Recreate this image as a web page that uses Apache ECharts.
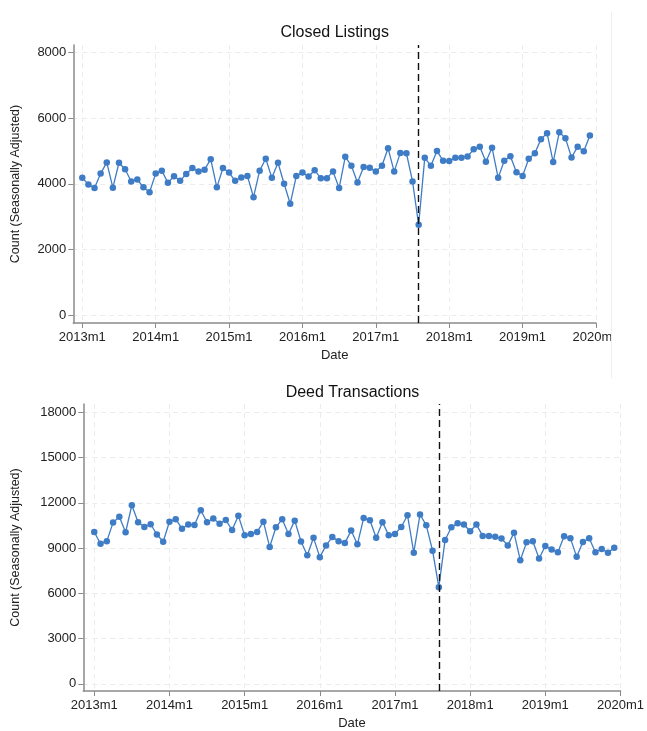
<!DOCTYPE html>
<html>
<head>
<meta charset="utf-8">
<script src="https://cdn.jsdelivr.net/npm/echarts@6.0.0/dist/echarts.min.js"></script>
<style>
html,body{margin:0;padding:0;background:#fff;}
#chart{width:647px;height:731px;}
</style>
</head>
<body>
<div id="chart"></div>
<script>
// ---- data ----
const startYear = 2013;
const xTickLabels = ['2013m1','2014m1','2015m1','2016m1','2017m1','2018m1','2019m1','2020m1'];
const xTickMonths = [0,12,24,36,48,60,72,84];
const eventMonth = 55; // 2017m8
const topTitle = 'Closed Listings';
const bottomTitle = 'Deed Transactions';
const yTitle = 'Count (Seasonally Adjusted)';
const xTitle = 'Date';
const topYTicks = [0,2000,4000,6000,8000];
const bottomYTicks = [0,3000,6000,9000,12000,15000,18000];

const closedListings = [
  4180,3980,3870,4310,4650,3880,4640,4440,4070,4130,3890,3740,
  4310,4400,4030,4230,4090,4300,4480,4370,4430,4750,3890,4480,
  4340,4090,4190,4240,3590,4400,4760,4180,4640,4000,3390,4240,
  4340,4220,4410,4170,4170,4370,3870,4820,4550,4040,4510,4490,
  4370,4550,5080,4370,4940,4930,4070,2750,4790,4550,5000,4700,
  4690,4790,4790,4830,5050,5130,4670,5100,4180,4700,4840,4350,
  4240,4760,4930,5360,5540,4660,5570,5390,4800,5130,4990,5470
];
const deedTransactions = [
  10070,9290,9460,10690,11080,10050,11840,10710,10400,10580,9900,9420,
  10750,10920,10290,10560,10530,11510,10710,10970,10620,10860,10200,11140,
  9860,9940,10070,10750,9070,10380,10920,9940,10820,9440,8530,9680,
  8400,9180,9730,9460,9330,10160,9250,10990,10840,9680,10710,9860,
  9940,10400,11180,8700,11230,10510,8830,6410,9540,10380,10640,10560,
  10120,10560,9810,9810,9750,9640,9180,10010,8200,9380,9460,8310,
  9140,8900,8730,9790,9660,8420,9400,9660,8730,8940,8700,9030
];

// ---- build ----
const toPairs = arr => arr.map((v,i)=>[i,v]);
const FONT = '"Liberation Sans", Arial, sans-serif';
const LINE_COLOR = '#3f7cc6';
const AXIS_COLOR = '#8a8a8a';
const GRID_COLOR = '#ececec';
const monthLabel = v => {
  const idx = xTickMonths.indexOf(Math.round(v));
  return idx >= 0 ? xTickLabels[idx] : '';
};

function xAxisCfg(gridIndex, min){
  return {
    type:'value', gridIndex, min, max:84,
    name:xTitle, nameLocation:'middle', nameGap:26,
    nameTextStyle:{fontFamily:FONT, fontSize:13, color:'#222'},
    axisLine:{show:true, onZero:false, lineStyle:{color:AXIS_COLOR, width:1.5}},
    axisTick:{show:true, length:5, customValues:xTickMonths, lineStyle:{color:AXIS_COLOR, width:1}},
    axisLabel:{customValues:xTickMonths, formatter:monthLabel, fontFamily:FONT, fontSize:13, color:'#222', margin:8, showMinLabel:true, showMaxLabel:true},
    splitLine:{show:true, lineStyle:{color:GRID_COLOR, type:[5,4], width:1}}
  };
}
function yAxisCfg(gridIndex, min, max, ticks, gap){
  return {
    type:'value', gridIndex, min, max,
    name:yTitle, nameLocation:'middle', nameGap:gap,
    nameTextStyle:{fontFamily:FONT, fontSize:12.5, color:'#222'},
    axisLine:{show:true, onZero:false, lineStyle:{color:AXIS_COLOR, width:1.5}},
    axisTick:{show:true, length:5, customValues:ticks, lineStyle:{color:AXIS_COLOR, width:1}},
    axisLabel:{customValues:ticks, formatter:v => String(Math.round(v)), fontFamily:FONT, fontSize:13, color:'#222', margin:7},
    splitLine:{show:true, lineStyle:{color:GRID_COLOR, type:[5,4], width:1}}
  };
}
function seriesCfg(data, idx){
  return {
    type:'line', xAxisIndex:idx, yAxisIndex:idx, data:toPairs(data),
    symbol:'circle', symbolSize:6.5, showSymbol:true,
    itemStyle:{color:LINE_COLOR},
    lineStyle:{color:LINE_COLOR, width:1.3},
    animation:false,
    markLine:{
      silent:true, symbol:['none','none'], label:{show:false},
      lineStyle:{color:'#111', type:[7,4], width:1.4},
      data:[{xAxis:eventMonth}]
    }
  };
}

const chart = echarts.init(document.getElementById('chart'), null, {renderer:'canvas'});
chart.setOption({
  backgroundColor:'#fff',
  animation:false,
  grid:[
    {left:73.3, top:45, width:522.7, height:278, containLabel:false},
    {left:83.3, top:404, width:538.4, height:291, containLabel:false}
  ],
  xAxis:[ xAxisCfg(0,-1.47), xAxisCfg(1,-1.75) ],
  yAxis:[
    yAxisCfg(0,-244,8229,topYTicks,51),
    yAxisCfg(1,-470,18550,bottomYTicks,61)
  ],
  series:[ seriesCfg(closedListings,0), seriesCfg(deedTransactions,1) ],
  graphic:[
    {type:'rect', z:100, shape:{x:612, y:0, width:40, height:385}, style:{fill:'#fff'}},
    {type:'line', z:101, shape:{x1:611.5, y1:12, x2:611.5, y2:378}, style:{stroke:'#efefef', lineWidth:1}},
    {type:'text', z:101, style:{text:topTitle, x:334.7, y:33, textAlign:'center', textVerticalAlign:'middle', font:'16px '+FONT, fill:'#111'}},
    {type:'text', z:101, style:{text:bottomTitle, x:352.5, y:393, textAlign:'center', textVerticalAlign:'middle', font:'16px '+FONT, fill:'#111'}}
  ]
});
</script>
</body>
</html>
